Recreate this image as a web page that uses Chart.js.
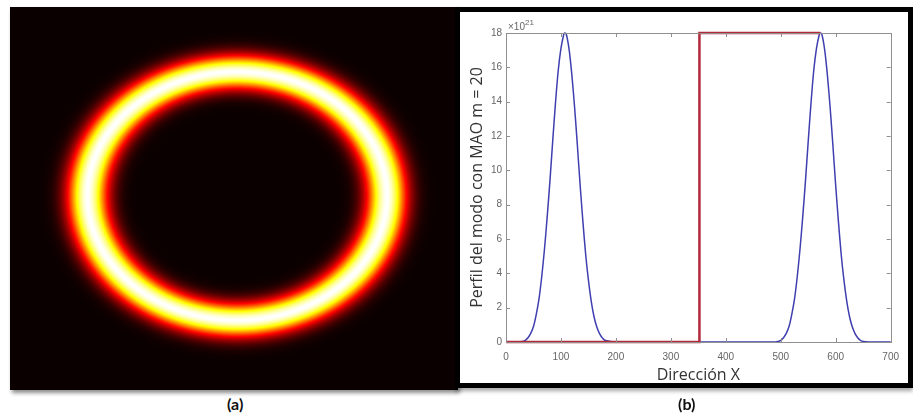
<!DOCTYPE html>
<html>
<head>
<meta charset="utf-8">
<script src="https://cdn.jsdelivr.net/npm/chart.js@4.4.1/dist/chart.umd.min.js"></script>
<style>
  html, body { margin: 0; padding: 0; background: #fff; width: 913px; height: 417px; overflow: hidden; }
  #ringBox { position: absolute; left: 10px; top: 7px; width: 448px; height: 383px; box-shadow: 2px 3px 4px rgba(0,0,0,0.45); }
  #plotBox { position: absolute; left: 455px; top: 7px; width: 458px; height: 381px; box-sizing: border-box;
             border: 5px solid #000; background: #fff; box-shadow: 0 3px 4px rgba(0,0,0,0.35); }
  #plotBox canvas { position: absolute; left: 0; top: 0; }
  .cap { position: absolute; top: 394px; font: bold 16px Lato, "Open Sans", sans-serif; color: #111; }
</style>
</head>
<body>
<div id="ringBox"><canvas id="ringChart" width="448" height="383"></canvas></div>
<div id="plotBox"><canvas id="profileChart" width="448" height="371"></canvas></div>
<div class="cap" style="left:227px">(a)</div>
<div class="cap" style="left:678px">(b)</div>

<script>
// perfil del modo (x 10^21) (b)
const blueX = [0, 20, 30, 35, 40, 45, 50, 55, 60, 65, 70, 75, 80, 85, 90, 95, 100, 105, 107, 110, 115, 120, 125,
  130, 135, 140, 145, 150, 155, 160, 165, 170, 175, 180, 190, 200, 300, 400, 490,
  495, 500, 505, 510, 515, 520, 525, 530, 535, 540, 545, 550, 555, 560, 565, 570, 572, 575, 580, 585, 590,
  595, 600, 605, 610, 615, 620, 625, 630, 635, 640, 645, 650, 660, 700];
const blueY = [0, 0, 0.03, 0.1, 0.25, 0.5, 0.9, 1.6, 2.5, 3.8, 5.4, 7.3, 9.4, 11.7, 13.9, 15.8, 17.1, 17.9, 18, 17.9, 17.0, 15.5, 13.6,
  11.4, 9.1, 7.0, 5.1, 3.6, 2.4, 1.5, 0.9, 0.5, 0.25, 0.1, 0.03, 0, 0, 0, 0,
  0.03, 0.1, 0.25, 0.5, 0.9, 1.6, 2.5, 3.8, 5.4, 7.3, 9.4, 11.7, 13.9, 15.8, 17.1, 17.9, 18, 17.9, 17.0, 15.5, 13.6,
  11.4, 9.1, 7.0, 5.1, 3.6, 2.4, 1.5, 0.9, 0.5, 0.25, 0.1, 0.03, 0, 0];

// linea roja (escalon)
const redX = [0, 352, 352, 572];
const redY = [0, 0, 18, 18];

const xTickValues = [0, 100, 200, 300, 400, 500, 600, 700];
const yTickValues = [0, 2, 4, 6, 8, 10, 12, 14, 16, 18];
const exponentLabel = "21";

// anillo (a): centro y rango de la imagen en las mismas unidades de X
const ringCenter = 339.5;
const peakValue = 18;
const imgXRange = [-14, 683];
const imgYRange = [-24, 694];

const toPoints = (xs, ys) => xs.map((x, i) => ({ x: x, y: ys[i] }));

// perfil radial sacado de la curva azul
const profileAt = (xv) => {
  if (xv <= blueX[0] || xv >= blueX[blueX.length - 1]) return 0;
  for (let i = 1; i < blueX.length; i++) {
    if (xv <= blueX[i]) {
      const t = (xv - blueX[i - 1]) / (blueX[i] - blueX[i - 1]);
      return blueY[i - 1] + t * (blueY[i] - blueY[i - 1]);
    }
  }
  return 0;
};

// mapa de color "hot" de matlab
const hot = (t) => {
  t = Math.max(0, Math.min(1, t));
  const k = t * 63 + 1;
  const cl = (v) => Math.max(0, Math.min(1, v));
  return [cl(k / 24) * 255, cl((k - 24) / 24) * 255, cl((k - 48) / 16) * 255];
};

const heatPlugin = {
  id: "heat",
  beforeDatasetsDraw(chart) {
    const { ctx, chartArea: a, scales } = chart;
    const w = Math.round(a.right - a.left);
    const h = Math.round(a.bottom - a.top);
    const img = ctx.createImageData(w, h);
    for (let j = 0; j < h; j++) {
      const v = scales.y.getValueForPixel(a.top + j + 0.5);
      for (let i = 0; i < w; i++) {
        const u = scales.x.getValueForPixel(a.left + i + 0.5);
        const r = Math.hypot(u - ringCenter, v - ringCenter);
        const c = hot(Math.pow(profileAt(ringCenter + r) / peakValue, 1.2));
        const p = (j * w + i) * 4;
        img.data[p] = c[0];
        img.data[p + 1] = c[1];
        img.data[p + 2] = c[2];
        img.data[p + 3] = 255;
      }
    }
    ctx.putImageData(img, a.left, a.top);
  },
};

new Chart(document.getElementById("ringChart"), {
  type: "scatter",
  data: { datasets: [{ data: [] }] },
  options: {
    responsive: false,
    animation: false,
    layout: { padding: 0 },
    plugins: { legend: { display: false }, tooltip: { enabled: false } },
    scales: {
      x: { type: "linear", min: imgXRange[0], max: imgXRange[1], display: false },
      y: { type: "linear", min: imgYRange[0], max: imgYRange[1], display: false },
    },
  },
  plugins: [heatPlugin],
});

// caja y marcas hacia dentro, estilo matlab
const boxPlugin = {
  id: "box",
  afterDraw(chart) {
    const { ctx, chartArea: a, scales } = chart;
    ctx.save();
    ctx.strokeStyle = "#8f8f8f";
    ctx.lineWidth = 1;
    ctx.beginPath();
    xTickValues.forEach((v) => {
      const px = Math.round(scales.x.getPixelForValue(v)) + 0.5;
      ctx.moveTo(px, a.bottom); ctx.lineTo(px, a.bottom - 4);
      ctx.moveTo(px, a.top); ctx.lineTo(px, a.top + 4);
    });
    yTickValues.forEach((v) => {
      const py = Math.round(scales.y.getPixelForValue(v)) + 0.5;
      ctx.moveTo(a.left, py); ctx.lineTo(a.left + 4, py);
      ctx.moveTo(a.right, py); ctx.lineTo(a.right - 4, py);
    });
    ctx.stroke();
    ctx.strokeRect(Math.round(a.left) + 0.5, Math.round(a.top) + 0.5,
      Math.round(a.right - a.left), Math.round(a.bottom - a.top));
    ctx.fillStyle = "#666";
    ctx.font = "10px 'Liberation Sans', sans-serif";
    ctx.textBaseline = "alphabetic";
    ctx.fillText("\u00d710", a.left + 2, a.top - 3);
    ctx.font = "8px 'Liberation Sans', sans-serif";
    ctx.fillText(exponentLabel, a.left + 19, a.top - 8);
    ctx.restore();
  },
};

new Chart(document.getElementById("profileChart"), {
  type: "line",
  data: {
    datasets: [
      {
        data: toPoints(redX, redY),
        borderColor: "#b3293a",
        borderWidth: 2.5,
        pointRadius: 0,
        tension: 0,
        clip: false,
      },
      {
        data: toPoints(blueX, blueY),
        borderColor: "#3f3fb0",
        borderWidth: 1.5,
        pointRadius: 0,
        tension: 0.3,
        clip: false,
      },
    ],
  },
  options: {
    responsive: false,
    animation: false,
    layout: { padding: { top: 21, right: 9, left: 0, bottom: 0 } },
    plugins: { legend: { display: false }, tooltip: { enabled: false } },
    scales: {
      x: {
        type: "linear",
        min: 0,
        max: 700,
        afterBuildTicks: (s) => { s.ticks = xTickValues.map((v) => ({ value: v })); },
        afterFit: (s) => { s.height = 41; },
        grid: { display: false, drawTicks: false },
        border: { display: false },
        ticks: { padding: 9, maxRotation: 0, color: "#666", font: { size: 10, family: "'Liberation Sans', sans-serif" } },
        title: {
          display: true,
          text: "Dirección X",
          color: "#333",
          font: { size: 16, family: "'Open Sans', sans-serif", lineHeight: 1 },
          padding: { top: 0, bottom: 0 },
        },
      },
      y: {
        type: "linear",
        min: 0,
        max: 18,
        afterBuildTicks: (s) => { s.ticks = yTickValues.map((v) => ({ value: v })); },
        afterFit: (s) => { s.width = 46; },
        grid: { display: false, drawTicks: false },
        border: { display: false },
        ticks: { padding: 4, color: "#666", font: { size: 10, family: "'Liberation Sans', sans-serif" } },
        title: {
          display: true,
          text: "Perfil del modo con MAO m = 20",
          color: "#333",
          font: { size: 16, family: "'Open Sans', sans-serif" },
          padding: { top: 8, bottom: 0 },
        },
      },
    },
  },
  plugins: [boxPlugin],
});
</script>
</body>
</html>
